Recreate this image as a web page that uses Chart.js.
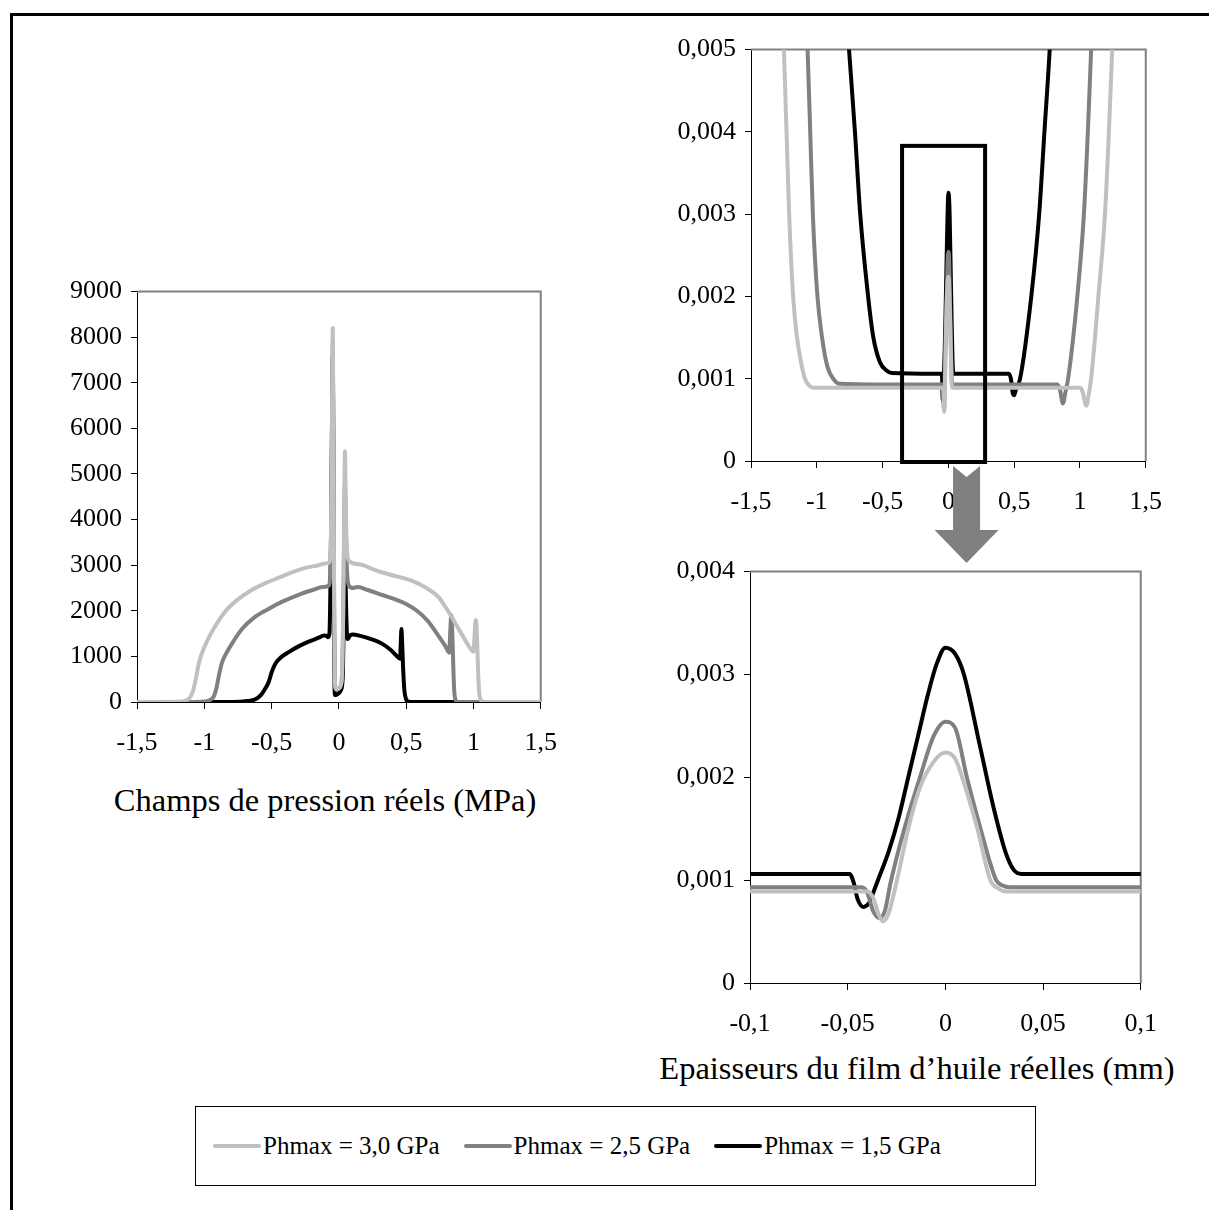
<!DOCTYPE html>
<html>
<head>
<meta charset="utf-8">
<script src="https://cdn.jsdelivr.net/npm/chart.js@4.4.0/dist/chart.umd.min.js"></script>
<style>
  body { margin: 0; background: #fff; width: 1209px; height: 1210px; position: relative; overflow: hidden;
         font-family: "Liberation Serif", "Times New Roman", serif; color: #000; }
  .abs { position: absolute; }
  #frame { left: 10px; top: 13px; width: 1199px; height: 1197px; border-top: 3px solid #000; border-left: 3px solid #000; box-sizing: border-box; }
  .caption { font-size: 32.5px; line-height: 38px; text-align: center; white-space: nowrap; }
  #legend { left: 195px; top: 1106px; width: 841px; height: 80px; border: 1px solid #000; box-sizing: border-box;
            display: flex; align-items: center; justify-content: flex-start; padding-left: 17px; font-size: 25px; }
  .item { display: flex; align-items: center; margin-right: 24px; }
  .swatch { width: 48px; height: 4px; margin-right: 2px; border-radius: 2px; }
</style>
</head>
<body>
<div id="frame" class="abs"></div>
<canvas id="pres" class="abs" width="519" height="495" style="left:57px;top:267px"></canvas>
<canvas id="film" class="abs" width="520" height="546" style="left:661px;top:25px"></canvas>
<canvas id="zoom" class="abs" width="516" height="496" style="left:660px;top:547px"></canvas>
<div class="abs caption" style="left:0;top:781px;width:650px">Champs de pression réels (MPa)</div>
<div class="abs caption" style="left:617px;top:1049px;width:600px">Epaisseurs du film d’huile réelles (mm)</div>
<div id="legend" class="abs"></div>
<script>
// series names and colours
const seriesNames = ['Phmax = 3,0 GPa', 'Phmax = 2,5 GPa', 'Phmax = 1,5 GPa'];
const seriesColors = ['#c0c0c0', '#808080', '#000000'];

// tick labels
const presXTicks = [-1.5, -1, -0.5, 0, 0.5, 1, 1.5];
const presYTicks = [0, 1000, 2000, 3000, 4000, 5000, 6000, 7000, 8000, 9000];
const filmXTicks = [-1.5, -1, -0.5, 0, 0.5, 1, 1.5];
const filmYTicks = [0, 0.001, 0.002, 0.003, 0.004, 0.005];
const zoomXTicks = [-0.1, -0.05, 0, 0.05, 0.1];
const zoomYTicks = [0, 0.001, 0.002, 0.003, 0.004];

// pressure (MPa) vs x (mm)
const pres30 = [[-1.5,0],[-1.2,5],[-1.15,20],[-1.12,60],[-1.1,130],[-1.08,280],[-1.06,550],[-1.04,850],[-1.02,1050],
  [-1.0,1200],[-0.96,1450],[-0.9,1750],[-0.84,2000],[-0.75,2250],[-0.65,2450],[-0.55,2600],[-0.45,2720],[-0.35,2840],
  [-0.25,2940],[-0.15,3000],[-0.1,3040],[-0.075,3050],[-0.06,3300],[-0.05,6800],[-0.045,8200],[-0.04,5500],[-0.035,2200],
  [-0.03,500],[-0.02,280],[0,300],[0.02,450],[0.03,1500],[0.038,3800],[0.045,5500],[0.052,4200],[0.06,3300],[0.075,3100],
  [0.1,3050],[0.18,3000],[0.28,2880],[0.4,2780],[0.54,2660],[0.65,2500],[0.74,2300],[0.81,2000],[0.87,1700],[0.92,1450],
  [0.96,1250],[1.0,1100],[1.008,1450],[1.016,1800],[1.024,1600],[1.032,900],[1.04,300],[1.05,80],[1.07,10],[1.1,0],[1.5,0]];
const pres25 = [[-1.5,0],[-1.1,0],[-1.0,10],[-0.96,40],[-0.93,120],[-0.91,300],[-0.89,600],[-0.87,850],[-0.84,1050],
  [-0.79,1300],[-0.72,1600],[-0.63,1850],[-0.53,2030],[-0.42,2200],[-0.3,2350],[-0.2,2450],[-0.12,2520],[-0.075,2550],
  [-0.06,3200],[-0.05,6200],[-0.045,7900],[-0.04,5200],[-0.035,2000],[-0.03,450],[-0.02,270],[0,300],[0.02,450],[0.03,1400],
  [0.038,3300],[0.045,4800],[0.052,3800],[0.06,2900],[0.075,2550],[0.1,2500],[0.14,2520],[0.22,2450],[0.32,2350],[0.42,2250],
  [0.5,2150],[0.58,2000],[0.66,1780],[0.74,1450],[0.79,1230],[0.82,1080],[0.827,1500],[0.835,1900],[0.843,1500],[0.85,800],
  [0.857,250],[0.865,60],[0.88,5],[0.9,0],[1.5,0]];
const pres15 = [[-1.23,0],[-0.8,0],[-0.68,20],[-0.62,60],[-0.58,150],[-0.55,280],[-0.52,450],[-0.5,650],[-0.47,850],
  [-0.43,980],[-0.37,1100],[-0.3,1220],[-0.22,1330],[-0.15,1410],[-0.11,1460],[-0.09,1450],[-0.08,1420],[-0.07,1500],
  [-0.06,3200],[-0.05,6500],[-0.045,7600],[-0.04,5000],[-0.036,1500],[-0.032,300],[-0.028,150],[-0.01,170],[0.015,260],
  [0.028,500],[0.036,1700],[0.045,3350],[0.052,2300],[0.06,1500],[0.068,1380],[0.08,1450],[0.1,1480],[0.16,1450],
  [0.24,1380],[0.32,1280],[0.39,1130],[0.44,980],[0.455,950],[0.46,1300],[0.465,1600],[0.47,1300],[0.478,700],
  [0.487,250],[0.5,60],[0.52,5],[0.55,0],[1.33,0]];

// oil film thickness (mm) vs x (mm)
const film30 = [[-1.28,0.0062],[-1.25,0.005],[-1.23,0.004],[-1.21,0.003],[-1.18,0.002],[-1.15,0.0015],[-1.12,0.0012],
  [-1.09,0.001],[-1.06,0.00092],[-1.02,0.00089],[-0.5,0.00089],[-0.1,0.00089],[-0.04,0.00089],[-0.037,0.00083],
  [-0.034,0.00066],[-0.0318,0.0006],[-0.029,0.00068],[-0.025,0.00098],[-0.019,0.0015],[-0.013,0.0019],[-0.006,0.00215],
  [0,0.00224],[0.005,0.00218],[0.0086,0.002],[0.0164,0.0015],[0.023,0.001],[0.027,0.00092],[0.031,0.00089],[0.1,0.00089],
  [0.5,0.00089],[1.0,0.00089],[1.02,0.00084],[1.04,0.0007],[1.05,0.00067],[1.06,0.00075],[1.085,0.001],[1.14,0.002],
  [1.19,0.003],[1.22,0.004],[1.245,0.005],[1.27,0.006]];
const film25 = [[-1.1,0.0062],[-1.07,0.005],[-1.05,0.004],[-1.03,0.003],[-0.995,0.002],[-0.96,0.0015],[-0.92,0.00115],
  [-0.87,0.00099],[-0.83,0.00094],[-0.5,0.00093],[-0.1,0.00093],[-0.043,0.00093],[-0.04,0.00088],[-0.037,0.0007],
  [-0.0337,0.00063],[-0.031,0.0007],[-0.028,0.00098],[-0.021,0.0015],[-0.013,0.002],[-0.006,0.0024],[0,0.00254],
  [0.005,0.00248],[0.011,0.002],[0.018,0.0015],[0.026,0.001],[0.029,0.00095],[0.033,0.00093],[0.1,0.00093],[0.5,0.00093],
  [0.83,0.00093],[0.85,0.00085],[0.87,0.0007],[0.89,0.00084],[0.91,0.001],[0.98,0.002],[1.03,0.003],[1.06,0.004],
  [1.085,0.005],[1.11,0.006]];
const film15 = [[-0.8,0.006],[-0.755,0.005],[-0.71,0.004],[-0.67,0.003],[-0.61,0.002],[-0.57,0.0015],[-0.52,0.0012],
  [-0.47,0.0011],[-0.43,0.00107],[-0.1,0.00106],[-0.049,0.00106],[-0.047,0.00098],[-0.045,0.00082],[-0.042,0.00074],
  [-0.039,0.00078],[-0.0365,0.0009],[-0.0345,0.001],[-0.029,0.00128],[-0.024,0.0016],[-0.019,0.002],[-0.014,0.0024],
  [-0.009,0.0028],[-0.0045,0.0031],[0,0.00326],[0.005,0.0032],[0.0095,0.003],[0.0174,0.00233],[0.025,0.00168],
  [0.031,0.00126],[0.035,0.0011],[0.039,0.00106],[0.1,0.00106],[0.46,0.00106],[0.475,0.001],[0.49,0.00082],[0.5,0.0008],
  [0.515,0.00088],[0.545,0.001],[0.63,0.002],[0.69,0.003],[0.73,0.004],[0.77,0.005],[0.8,0.006]];

// zoom rectangle on the film chart: x from, x to, y top, y bottom
const zoomBox = [-0.352, 0.279, 0.00383, 0];

Chart.defaults.font.family = '"Liberation Serif", "Times New Roman", serif';
Chart.defaults.font.size = 26;
Chart.defaults.color = '#000';

const fmt = v => String(v).replace('.', ',');

function datasets(list) {
  return list.map((s, i) => ({
    label: seriesNames[i],
    data: s.map(p => ({ x: p[0], y: p[1] })),
    borderColor: seriesColors[i],
    borderWidth: 4,
    pointRadius: 0,
    cubicInterpolationMode: 'monotone',
    borderJoinStyle: 'round',
    borderCapStyle: 'round'
  }));
}

function xAxis(ticks) {
  return {
    type: 'linear', min: ticks[0], max: ticks[ticks.length - 1],
    afterBuildTicks: s => { s.ticks = ticks.map(v => ({ value: v })); },
    afterFit: s => { s.height = 60; },
    ticks: { callback: v => fmt(v), autoSkip: false, maxRotation: 0, padding: 19 },
    grid: { drawOnChartArea: false, tickLength: 7, color: '#000' },
    border: { color: '#000', width: 1 }
  };
}

function yAxis(ticks, w) {
  return {
    min: ticks[0], max: ticks[ticks.length - 1],
    afterBuildTicks: s => { s.ticks = ticks.map(v => ({ value: v })); },
    afterFit: s => { s.width = w; },
    ticks: { callback: v => fmt(v), padding: 9 },
    grid: { drawOnChartArea: false, tickLength: 6, color: '#000' },
    border: { color: '#000', width: 1 }
  };
}

// grey top and right edges of each plot area
const plotFrame = {
  id: 'plotFrame',
  beforeDatasetsDraw(chart) {
    const { ctx, chartArea: a } = chart;
    ctx.save();
    ctx.strokeStyle = '#808080';
    ctx.lineWidth = 2;
    ctx.beginPath();
    ctx.moveTo(a.left, a.top);
    ctx.lineTo(a.right, a.top);
    ctx.lineTo(a.right, a.bottom);
    ctx.stroke();
    ctx.restore();
  }
};

// black box on the film chart and the grey arrow down to the zoom
const zoomMark = {
  id: 'zoomMark',
  afterDatasetsDraw(chart) {
    const { ctx, scales: { x, y } } = chart;
    const l = x.getPixelForValue(zoomBox[0]), r = x.getPixelForValue(zoomBox[1]);
    const t = y.getPixelForValue(zoomBox[2]), b = y.getPixelForValue(zoomBox[3]) + 1;
    ctx.save();
    ctx.lineWidth = 4;
    ctx.strokeStyle = '#000';
    ctx.strokeRect(l, t, r - l, b - t);
    const cx = (l + r) / 2 + 23, y0 = chart.chartArea.bottom;
    ctx.fillStyle = '#808080';
    ctx.beginPath();
    ctx.moveTo(cx - 13.5, y0 + 5);
    ctx.lineTo(cx, y0 + 16);
    ctx.lineTo(cx + 13.5, y0 + 5);
    ctx.lineTo(cx + 13.5, y0 + 69);
    ctx.lineTo(cx + 32, y0 + 69);
    ctx.lineTo(cx, y0 + 102);
    ctx.lineTo(cx - 32, y0 + 69);
    ctx.lineTo(cx - 13.5, y0 + 69);
    ctx.closePath();
    ctx.fill();
    ctx.restore();
  }
};

const common = {
  responsive: false,
  animation: false,
  devicePixelRatio: 1,
  plugins: { legend: { display: false }, tooltip: { enabled: false } }
};

new Chart(document.getElementById('pres'), {
  type: 'line',
  data: { datasets: datasets([pres30, pres25, pres15]) },
  options: { ...common, layout: { padding: { top: 17, right: 25 } },
    scales: { x: xAxis(presXTicks), y: yAxis(presYTicks, 80) } },
  plugins: [plotFrame]
});

new Chart(document.getElementById('film'), {
  type: 'line',
  data: { datasets: datasets([film30, film25, film15]) },
  options: { ...common, layout: { padding: { top: 17, right: 25, bottom: 50 } },
    scales: { x: xAxis(filmXTicks), y: yAxis(filmYTicks, 90) } },
  plugins: [plotFrame, zoomMark]
});

new Chart(document.getElementById('zoom'), {
  type: 'line',
  data: { datasets: datasets([film30, film25, film15]) },
  options: { ...common, layout: { padding: { top: 17, right: 25 } },
    scales: { x: xAxis(zoomXTicks), y: yAxis(zoomYTicks, 90) } },
  plugins: [plotFrame]
});

// legend box
const legend = document.getElementById('legend');
seriesNames.forEach((name, i) => {
  const item = document.createElement('div');
  item.className = 'item';
  const sw = document.createElement('span');
  sw.className = 'swatch';
  sw.style.background = seriesColors[i];
  const tx = document.createElement('span');
  tx.textContent = name;
  item.appendChild(sw);
  item.appendChild(tx);
  legend.appendChild(item);
});
</script>
</body>
</html>
